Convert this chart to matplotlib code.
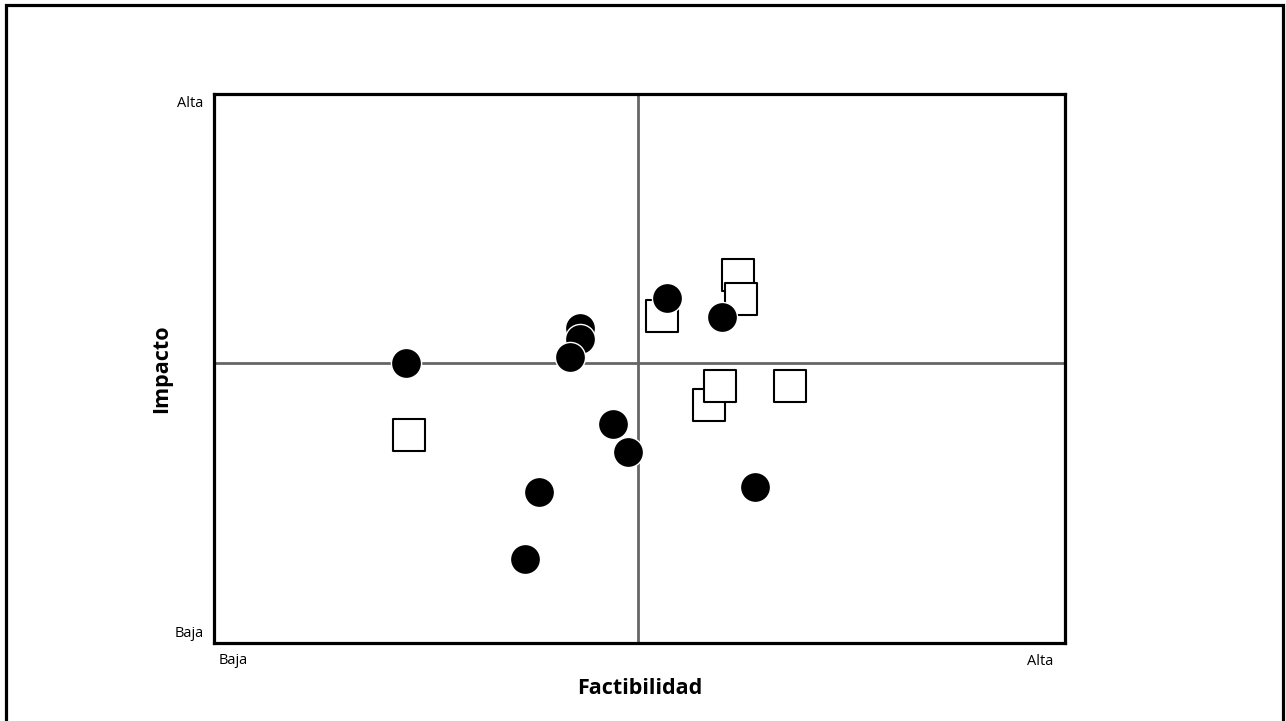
import matplotlib
matplotlib.use("Agg")
import matplotlib.pyplot as plt
from matplotlib.patches import Rectangle

plt.rcParams['font.family'] = ['Open Sans', 'DejaVu Sans']

# Proyectos en la matriz impacto / factibilidad (escala 0-10)
square_x = [2.29, 5.26, 6.16, 6.19, 5.82, 5.95, 6.77]
square_y = [3.79, 5.96, 6.70, 6.27, 4.34, 4.68, 4.68]

circle_x = [2.26, 4.30, 4.30, 4.18, 5.32, 5.97, 4.69, 4.86, 3.82, 3.65, 6.36]
circle_y = [5.10, 5.74, 5.54, 5.21, 6.28, 5.94, 3.99, 3.48, 2.75, 1.53, 2.84]

x_mid = 4.98
y_mid = 5.10

fig = plt.figure(figsize=(12.86, 7.21), dpi=100)
ax = fig.add_axes([0.1664, 0.1082, 0.6617, 0.7614])
ax.set_xlim(0, 10)
ax.set_ylim(0, 10)

# lineas que dividen los cuadrantes
ax.axvline(x_mid, color="#666666", lw=2.0, zorder=1)
ax.axhline(y_mid, color="#666666", lw=2.0, zorder=1)

ax.scatter(square_x, square_y, s=560, marker="s", facecolor="white",
           edgecolor="black", linewidth=1.5, zorder=2)
ax.scatter(circle_x, circle_y, s=470, marker="o", facecolor="black",
           edgecolor="white", linewidth=1.0, zorder=3)

ax.set_xticks([])
ax.set_yticks([])
for sp in ax.spines.values():
    sp.set_linewidth(2.3)
    sp.set_color("black")

ax.text(-0.012, 0.982, "Alta", transform=ax.transAxes, ha="right", va="center", fontsize=10.5)
ax.text(-0.012, 0.018, "Baja", transform=ax.transAxes, ha="right", va="center", fontsize=10.5)
ax.text(0.005, -0.032, "Baja", transform=ax.transAxes, ha="left", va="center", fontsize=10.5)
ax.text(0.987, -0.034, "Alta", transform=ax.transAxes, ha="right", va="center", fontsize=10.5)

ax.set_xlabel("Factibilidad", fontsize=15.5, fontweight="bold", labelpad=25)
ax.set_ylabel("Impacto", fontsize=15.5, fontweight="bold", labelpad=30)

# marco exterior
fig.patches.append(Rectangle((6 / 1286, -0.05), 1277 / 1286, 1.05 - 5.5 / 721,
                             transform=fig.transFigure, fill=False,
                             edgecolor="black", linewidth=2.3))

fig.savefig("out.png", dpi=100)
